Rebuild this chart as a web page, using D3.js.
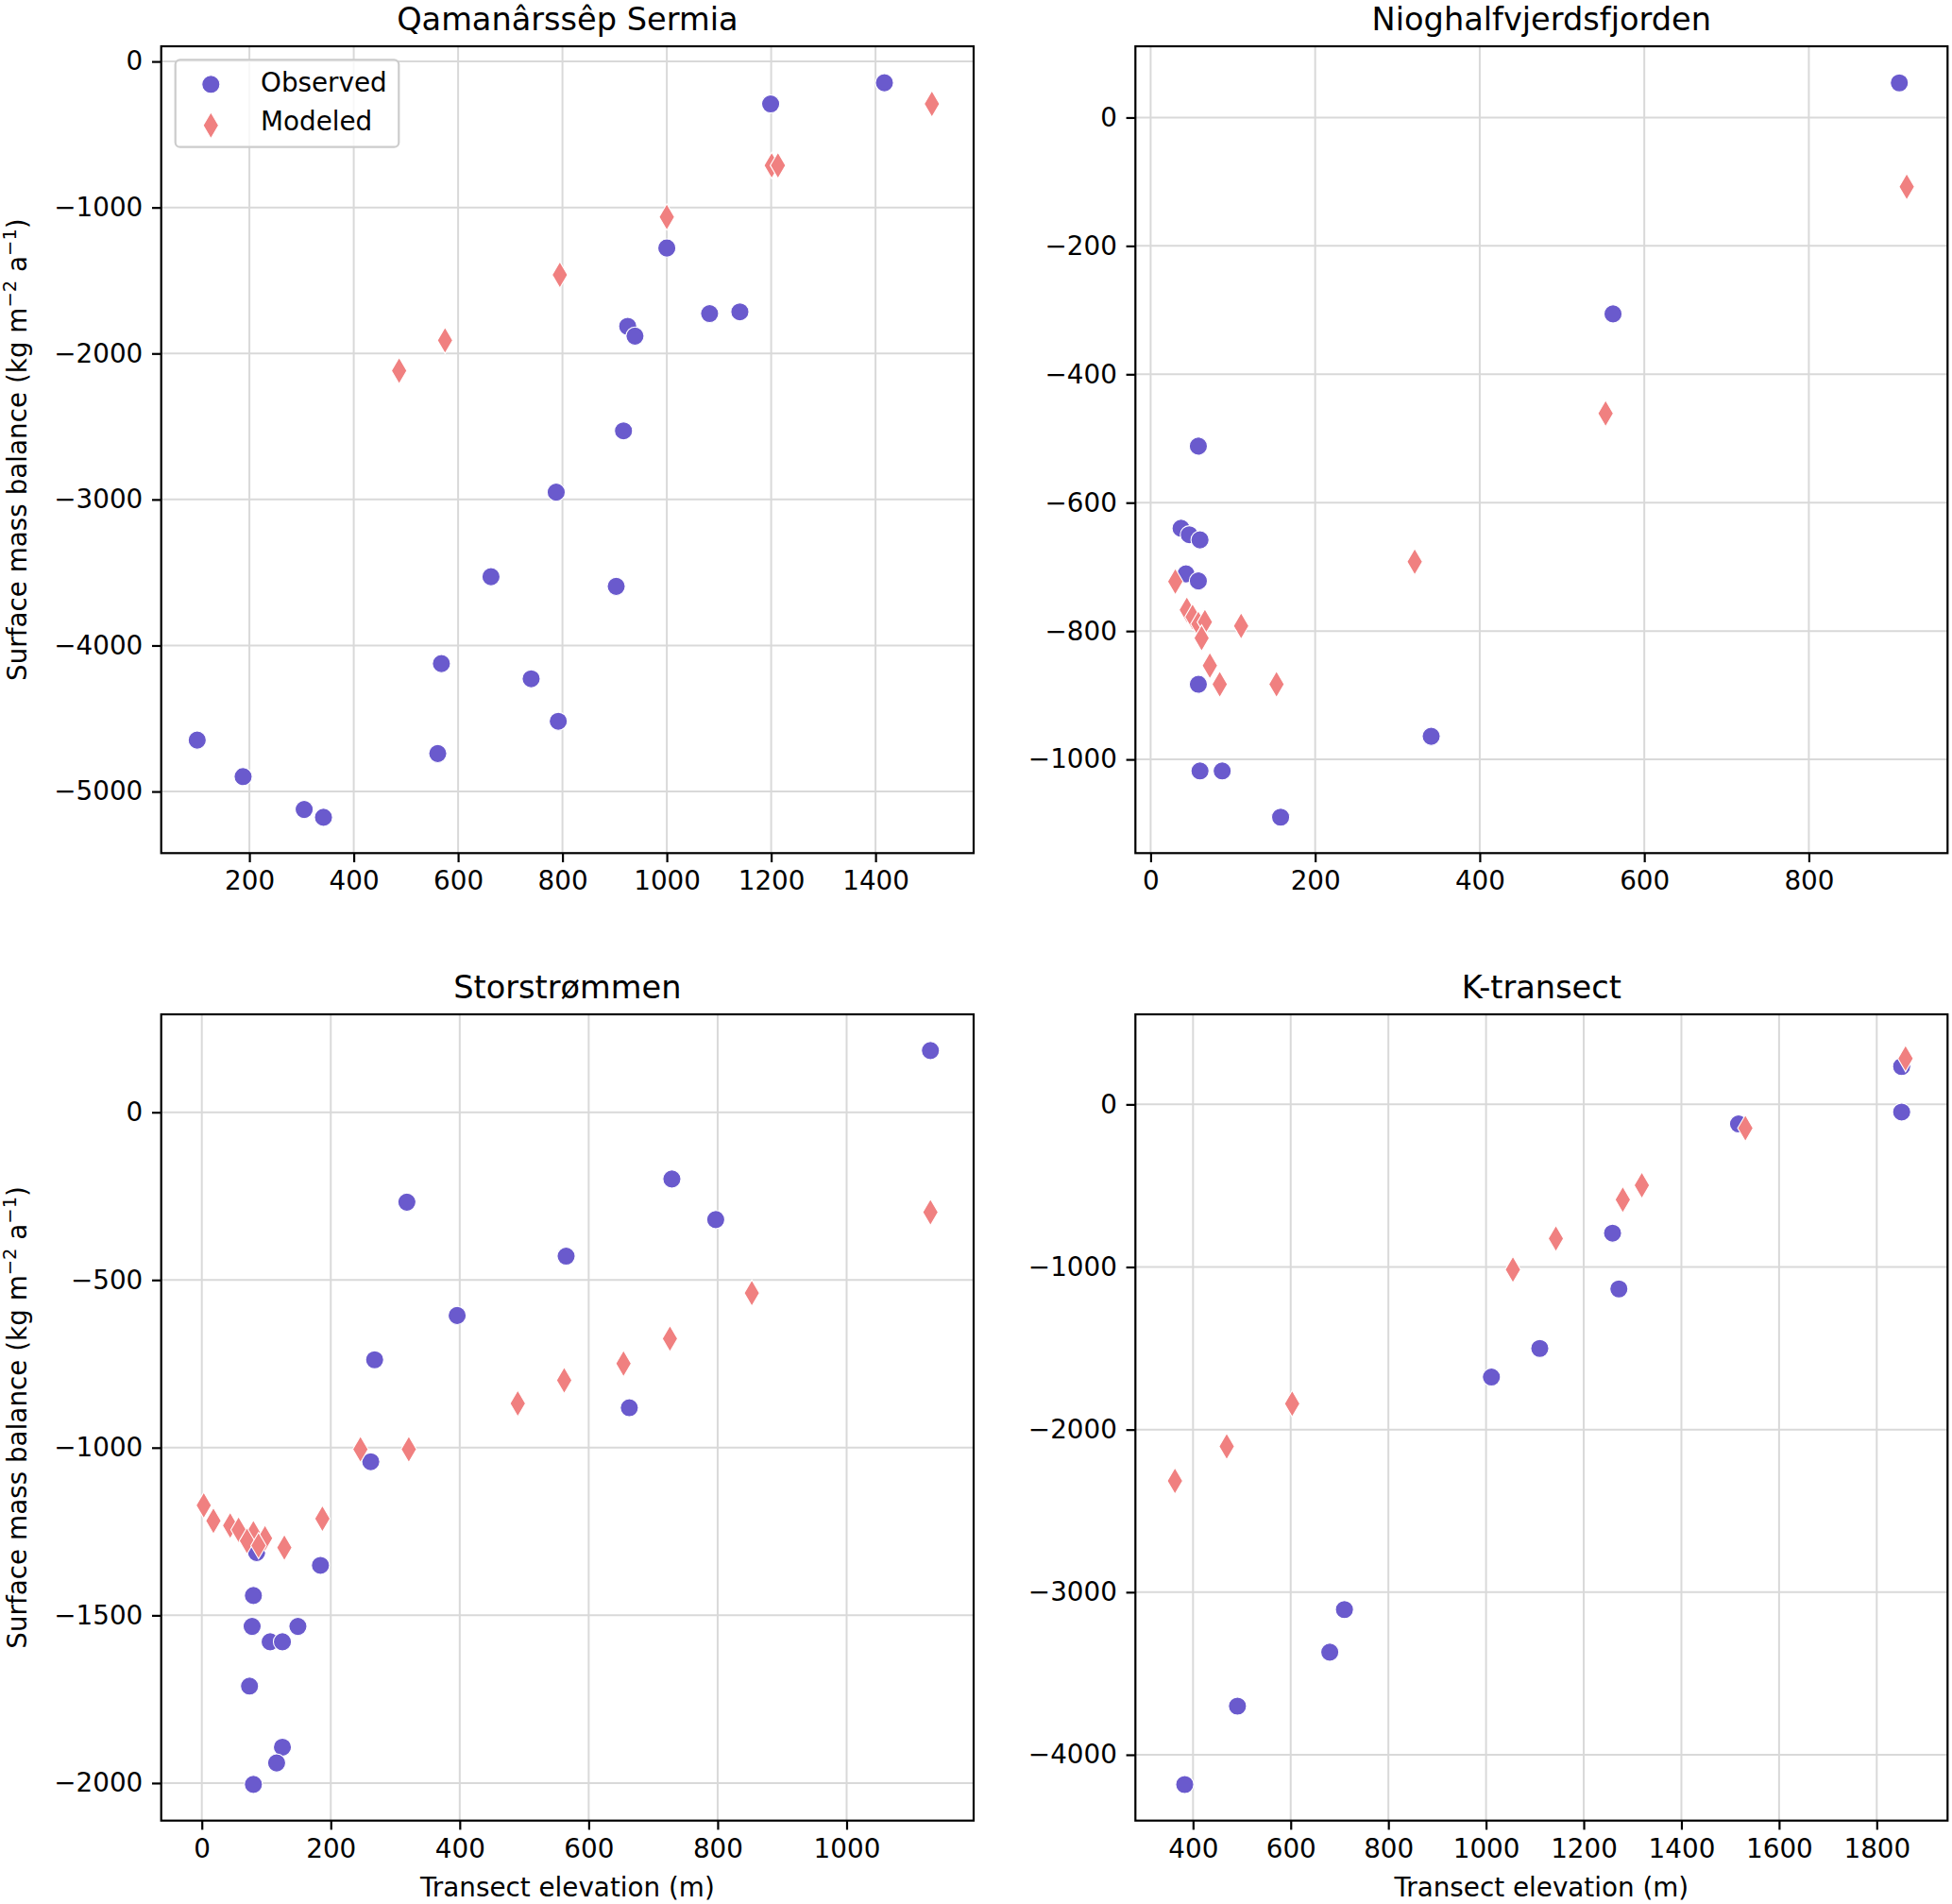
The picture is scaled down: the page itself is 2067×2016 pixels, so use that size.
<!DOCTYPE html>
<html><head><meta charset="utf-8">
<script src="https://cdn.jsdelivr.net/npm/d3@7"></script>
<style>
body{margin:0;background:#fff}
svg text{font-family:"DejaVu Sans",sans-serif;fill:#000}
</style>
</head><body>
<svg id="c" width="2067" height="2016"></svg>
<script>
// ---------- data ----------
const panelTitles = ["Qamanârssêp Sermia", "Nioghalfvjerdsfjorden", "Storstrømmen", "K-transect"];
const seriesNames = ["Observed", "Modeled"];

const qamanObserved = [[100,-4648],[188,-4898],[305,-5123],[342,-5177],[561,-4740],[568,-4124],[663,-3529],[740,-4228],[792,-4519],[788,-2950],[903,-3595],[917,-2530],[925,-1814],[939,-1881],[1000,-1278],[1082,-1727],[1140,-1715],[1199,-291],[1417,-146]];
const qamanModeled = [[487,-2118],[575,-1910],[795,-1461],[1000,-1065],[1201,-712],[1213,-712],[1508,-291]];

const niogObserved = [[910,54],[562,-306],[58,-512],[37,-640],[47,-650],[60,-658],[43,-711],[58,-722],[58,-883],[60,-1018],[87,-1018],[158,-1090],[341,-964]];
const niogModeled = [[30,-723],[44,-767],[51,-778],[58,-789],[66,-786],[62,-811],[72,-854],[84,-883],[110,-792],[153,-883],[321,-692],[553,-461],[919,-108]];

const storObserved = [[1130,184],[729,-199],[797,-320],[318,-268],[565,-429],[396,-606],[268,-738],[663,-881],[262,-1042],[184,-1351],[85,-1313],[80,-1441],[78,-1533],[149,-1533],[106,-1579],[125,-1579],[74,-1711],[125,-1893],[116,-1940],[80,-2004]];
const storModeled = [[1130,-298],[853,-539],[726,-675],[654,-749],[562,-799],[490,-868],[321,-1005],[246,-1005],[187,-1212],[128,-1298],[3,-1172],[18,-1218],[44,-1232],[57,-1245],[80,-1255],[98,-1270],[70,-1278],[88,-1292]];

const kObserved = [[1851,233],[1851,-47],[1517,-120],[1259,-792],[1272,-1135],[1110,-1501],[1011,-1677],[710,-3107],[680,-3369],[491,-3701],[383,-4183]];
const kModeled = [[1859,282],[1531,-146],[1319,-497],[1280,-586],[1143,-825],[1055,-1016],[603,-1841],[469,-2103],[363,-2316]];

const qamanXTicks = [200,400,600,800,1000,1200,1400];
const qamanYTicks = [0,-1000,-2000,-3000,-4000,-5000];
const niogXTicks = [0,200,400,600,800];
const niogYTicks = [0,-200,-400,-600,-800,-1000];
const storXTicks = [0,200,400,600,800,1000];
const storYTicks = [0,-500,-1000,-1500,-2000];
const kXTicks = [400,600,800,1000,1200,1400,1600,1800];
const kYTicks = [0,-1000,-2000,-3000,-4000];

const qamanXLim = [31,1588], qamanYLim = [-5422,104];
const niogXLim = [-18.5,968.6], niogYLim = [-1146,111];
const storXLim = [-63,1197], storYLim = [-2112,292];
const kXLim = [282,1945], kYLim = [-4405,554];

const xLabel = "Transect elevation (m)";

// ---------- layout / style ----------
const obsColor = "#6a5acd", modColor = "#f08080";
const tickFont = 27.8, titleFont = 33.6;
const boxes = [
  {x0:170.7, x1:1031, y0:49, y1:903.3},
  {x0:1202.3, x1:2062.3, y0:49, y1:903.3},
  {x0:170.7, x1:1031, y0:1074, y1:1927.7},
  {x0:1202.3, x1:2062.3, y0:1074, y1:1927.7}
];
const panels = [
  {title:panelTitles[0], obs:qamanObserved, mod:qamanModeled, xt:qamanXTicks, yt:qamanYTicks, xl:qamanXLim, yl:qamanYLim, ylab:true, xlab:false, legend:true},
  {title:panelTitles[1], obs:niogObserved, mod:niogModeled, xt:niogXTicks, yt:niogYTicks, xl:niogXLim, yl:niogYLim, ylab:false, xlab:false},
  {title:panelTitles[2], obs:storObserved, mod:storModeled, xt:storXTicks, yt:storYTicks, xl:storXLim, yl:storYLim, ylab:true, xlab:true},
  {title:panelTitles[3], obs:kObserved, mod:kModeled, xt:kXTicks, yt:kYTicks, xl:kXLim, yl:kYLim, ylab:false, xlab:true}
];

const fmt = d => (d < 0 ? "\u2212" + Math.abs(d) : String(d));
const diamondPath = "M0,-14L8.2,0L0,14L-8.2,0Z";
const circleR = 9.6;

const svg = d3.select("#c");

panels.forEach((p, i) => {
  const b = boxes[i];
  const x = d3.scaleLinear().domain(p.xl).range([b.x0, b.x1]);
  const y = d3.scaleLinear().domain(p.yl).range([b.y1, b.y0]);
  const g = svg.append("g");

  // grid
  g.append("g").selectAll("line").data(p.xt).join("line")
    .attr("x1", d => x(d)).attr("x2", d => x(d)).attr("y1", b.y0).attr("y2", b.y1)
    .attr("stroke", "#d9d9d9").attr("stroke-width", 2);
  g.append("g").selectAll("line").data(p.yt).join("line")
    .attr("x1", b.x0).attr("x2", b.x1).attr("y1", d => y(d)).attr("y2", d => y(d))
    .attr("stroke", "#d9d9d9").attr("stroke-width", 2);

  // clip
  const cid = "clip" + i;
  svg.append("clipPath").attr("id", cid).append("rect")
    .attr("x", b.x0).attr("y", b.y0).attr("width", b.x1 - b.x0).attr("height", b.y1 - b.y0);
  const marks = g.append("g").attr("clip-path", `url(#${cid})`);

  marks.selectAll("circle").data(p.obs).join("circle")
    .attr("cx", d => x(d[0])).attr("cy", d => y(d[1])).attr("r", circleR)
    .attr("fill", obsColor).attr("stroke", "#fff").attr("stroke-width", 1.1);
  marks.selectAll("path").data(p.mod).join("path")
    .attr("d", diamondPath)
    .attr("transform", d => `translate(${x(d[0])},${y(d[1])})`)
    .attr("fill", modColor).attr("stroke", "#fff").attr("stroke-width", 1.1);

  // axes
  const ax = g.append("g").attr("transform", `translate(0,${b.y1})`)
    .call(d3.axisBottom(x).tickValues(p.xt).tickFormat(fmt).tickSize(9.7).tickPadding(9.7).tickSizeOuter(0));
  const ay = g.append("g").attr("transform", `translate(${b.x0},0)`)
    .call(d3.axisLeft(y).tickValues(p.yt).tickFormat(fmt).tickSize(9.7).tickPadding(9.7).tickSizeOuter(0));
  [ax, ay].forEach(a => {
    a.select(".domain").remove();
    a.selectAll(".tick line").attr("stroke", "#000").attr("stroke-width", 2.2);
    a.selectAll(".tick text").attr("font-size", tickFont).attr("font-family", "DejaVu Sans").attr("fill", "#000");
  });

  // spines
  g.append("rect").attr("x", b.x0).attr("y", b.y0).attr("width", b.x1 - b.x0).attr("height", b.y1 - b.y0)
    .attr("fill", "none").attr("stroke", "#000").attr("stroke-width", 2.2);

  // title
  g.append("text").attr("x", (b.x0 + b.x1) / 2).attr("y", b.y0 - 17.5)
    .attr("text-anchor", "middle").attr("font-size", titleFont).text(p.title);

  if (p.ylab) {
    const cy = (b.y0 + b.y1) / 2;
    const t = g.append("text").attr("transform", `translate(28,${cy}) rotate(-90)`)
      .attr("text-anchor", "middle").attr("font-size", tickFont);
    t.append("tspan").text("Surface mass balance (kg m");
    t.append("tspan").attr("dy", -11).attr("font-size", 19.5).text("\u22122");
    t.append("tspan").attr("dy", 11).text(" a");
    t.append("tspan").attr("dy", -11).attr("font-size", 19.5).text("\u22121");
    t.append("tspan").attr("dy", 11).text(")");
  }
  if (p.xlab) {
    g.append("text").attr("x", (b.x0 + b.x1) / 2).attr("y", 2008)
      .attr("text-anchor", "middle").attr("font-size", tickFont).text(xLabel);
  }

  if (p.legend) {
    const lg = g.append("g");
    lg.append("rect").attr("x", 185.7).attr("y", 63.3).attr("width", 236.6).attr("height", 92.4)
      .attr("rx", 5).attr("fill", "#fff").attr("fill-opacity", 0.8)
      .attr("stroke", "#cccccc").attr("stroke-width", 2.2);
    lg.append("circle").attr("cx", 223.3).attr("cy", 89.3).attr("r", circleR)
      .attr("fill", obsColor).attr("stroke", "#fff").attr("stroke-width", 1.1);
    lg.append("path").attr("d", diamondPath).attr("transform", "translate(223.3,132.7)")
      .attr("fill", modColor).attr("stroke", "#fff").attr("stroke-width", 1.1);
    lg.append("text").attr("x", 276).attr("y", 97).attr("font-size", tickFont).text(seriesNames[0]);
    lg.append("text").attr("x", 276).attr("y", 138).attr("font-size", tickFont).text(seriesNames[1]);
  }
});
</script>
</body></html>
